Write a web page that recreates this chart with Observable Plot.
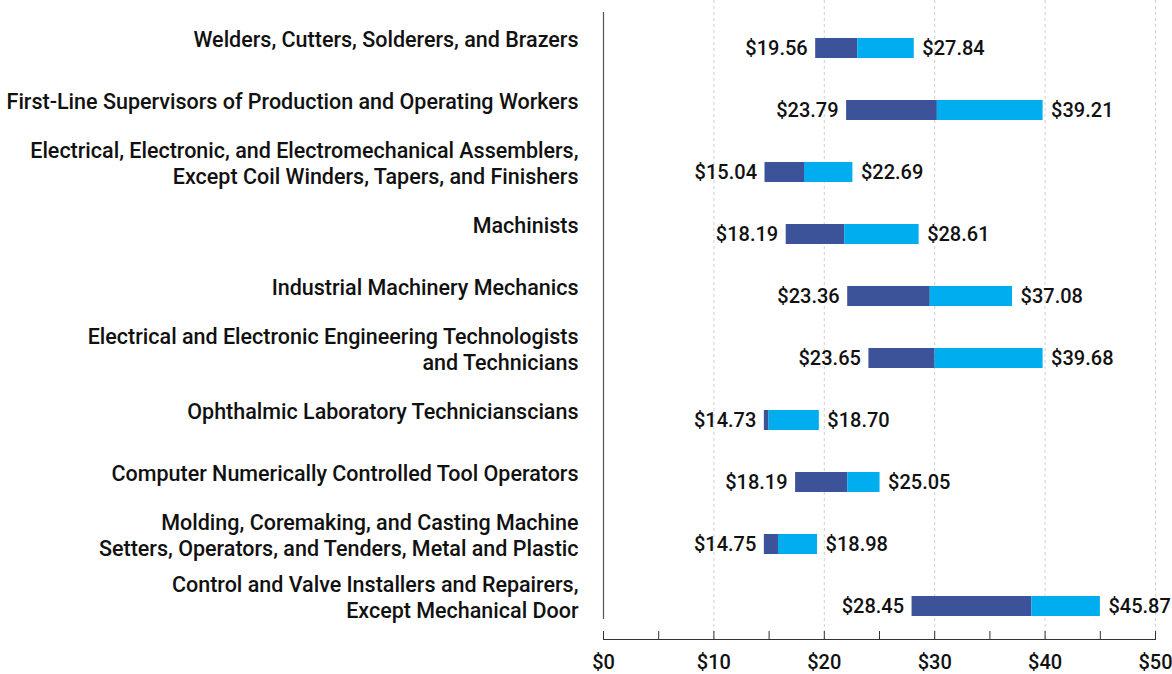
<!DOCTYPE html>
<html><head><meta charset="utf-8">
<script src="https://cdn.jsdelivr.net/npm/d3@7"></script>
<script src="https://cdn.jsdelivr.net/npm/@observablehq/plot@0.6"></script>
<style>body{margin:0;background:#fff;}</style>
</head><body><div id="chart"></div>
<script>
const categories = [
  "Welders, Cutters, Solderers, and Brazers",
  "First-Line Supervisors of Production and Operating Workers",
  "Electrical, Electronic, and Electromechanical Assemblers,\nExcept Coil Winders, Tapers, and Finishers",
  "Machinists",
  "Industrial Machinery Mechanics",
  "Electrical and Electronic Engineering Technologists\nand Technicians",
  "Ophthalmic Laboratory Technicianscians",
  "Computer Numerically Controlled Tool Operators",
  "Molding, Coremaking, and Casting Machine\nSetters, Operators, and Tenders, Metal and Plastic",
  "Control and Valve Installers and Repairers,\nExcept Mechanical Door"
];
// bar extents as drawn (dollars per hour)
const barLow  = [19.22, 22.02, 14.63, 16.55, 22.12, 24.04, 14.57, 17.40, 14.57, 27.95];
const barMid  = [23.03, 30.24, 18.21, 21.85, 29.60, 30.04, 15.00, 22.12, 15.85, 38.81];
const barHigh = [28.15, 39.82, 22.59, 28.59, 37.05, 39.82, 19.55, 25.05, 19.39, 45.01];
// printed wage labels
const lowLabel  = [19.56, 23.79, 15.04, 18.19, 23.36, 23.65, 14.73, 18.19, 14.75, 28.45];
const highLabel = [27.84, 39.21, 22.69, 28.61, 37.08, 39.68, 18.70, 25.05, 18.98, 45.87];
const xTicks = [0, 5, 10, 15, 20, 25, 30, 35, 40, 45, 50];
const xLabelTicks = [0, 10, 20, 30, 40, 50];
const gridTicks = [10, 20, 30, 40, 50];

const rows = categories.map((c, i) => ({
  cat: c, low: barLow[i], mid: barMid[i], high: barHigh[i],
  lowText: lowLabel[i], highText: highLabel[i]
}));
const fmt = v => "$" + v.toFixed(2);

const chart = Plot.plot({
  width: 1172, height: 674,
  marginLeft: 603, marginRight: 17, marginTop: 14, marginBottom: 35,
  style: {fontFamily: "Roboto, sans-serif", fontSize: "20px", fontWeight: 500, color: "#111", background: "#fff", overflow: "visible"},
  x: {domain: [0, 50]},
  y: {domain: categories, padding: 0, axis: null},
  marks: [
    Plot.gridX({ticks: gridTicks, stroke: "#cfcfcf", strokeOpacity: 1, strokeDasharray: "3,3", insetTop: -14}),
    Plot.ruleX([0], {stroke: "#555", strokeWidth: 1.2, insetBottom: 20, insetTop: -2}),
    Plot.frame({anchor: "bottom", stroke: "#333"}),
    Plot.axisX({ticks: xTicks, tickSize: -8, tickFormat: () => "", stroke: "#333"}),
    Plot.axisX({ticks: xLabelTicks, tickSize: 0, tickPadding: 15, tickFormat: d => "$" + d, fontSize: 20, fontWeight: 500, fill: "#111"}),
    Plot.barX(rows, {y: "cat", x1: "low", x2: "mid", fill: "#3c5399", insetTop: 21, insetBottom: 21}),
    Plot.barX(rows, {y: "cat", x1: "mid", x2: "high", fill: "#00aeef", insetTop: 21, insetBottom: 21}),
    Plot.text(rows, {y: "cat", x: "low", text: d => fmt(d.lowText), textAnchor: "end", dx: -8, fill: "#111", fontSize: 20, fontWeight: 500}),
    Plot.text(rows, {y: "cat", x: "high", text: d => fmt(d.highText), textAnchor: "start", dx: 8, fill: "#111", fontSize: 20, fontWeight: 500}),
    Plot.text(rows, {y: "cat", text: "cat", frameAnchor: "left", textAnchor: "end", dx: -25, dy: -10, lineHeight: 1.21, fill: "#111", fontSize: 21.5, fontWeight: 500})
  ]
});
document.getElementById("chart").appendChild(chart);
</script>
</body></html>
